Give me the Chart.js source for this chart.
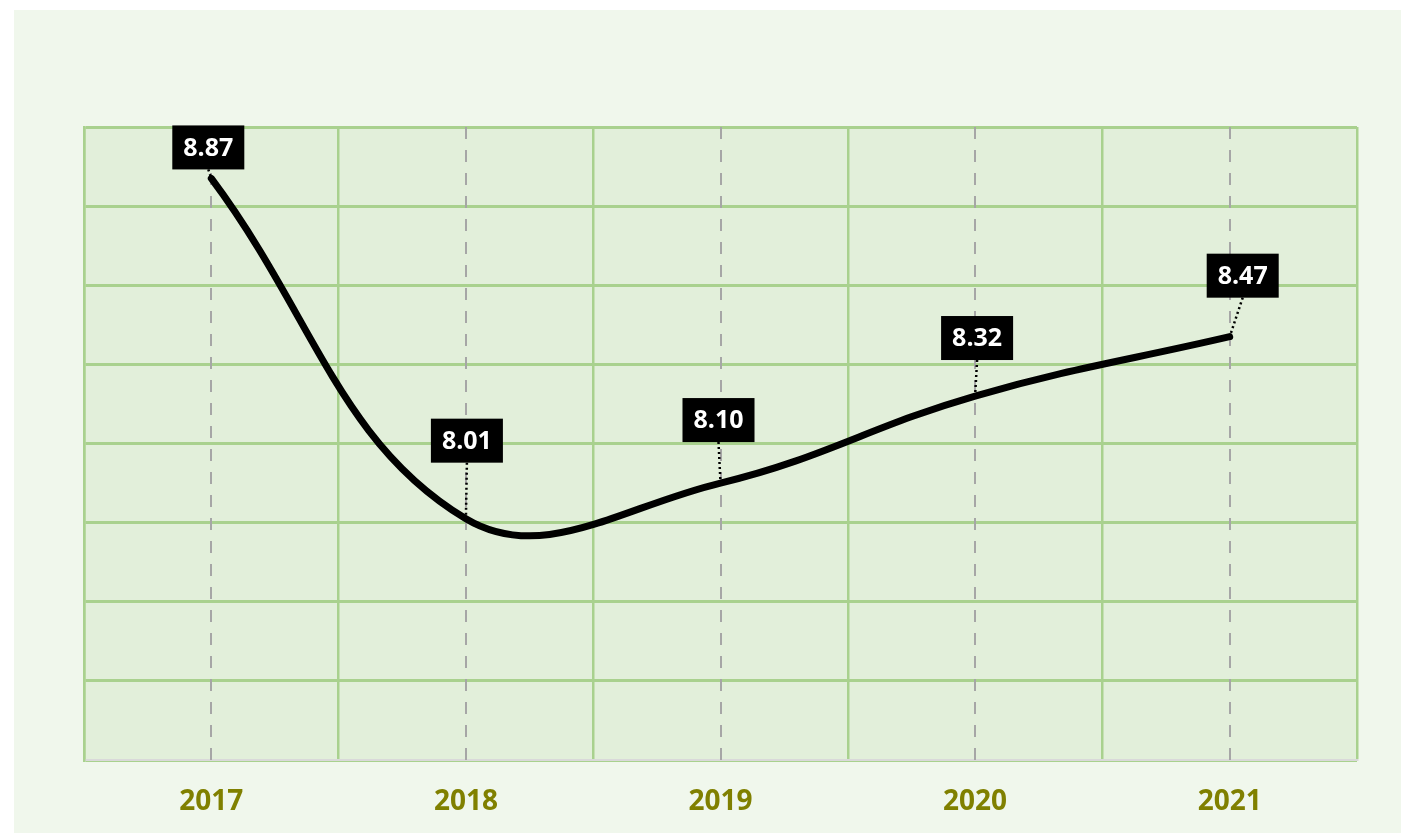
<!DOCTYPE html>
<html>
<head>
<meta charset="utf-8">
<script src="https://cdn.jsdelivr.net/npm/chart.js@4"></script>
<style>
  html, body { margin: 0; padding: 0; background: #ffffff; }
  #wrap {
    position: absolute;
    left: 14px;
    top: 10px;
    width: 1387px;
    height: 823px;
    background: #f0f7ec;
  }
</style>
</head>
<body>
<div id="wrap"><canvas id="chart"></canvas></div>
<script>
const years = ["2017", "2018", "2019", "2020", "2021"];
const values = [8.87, 8.01, 8.10, 8.32, 8.47];
const yMin = 7.4;
const yMax = 9.0;
const yStep = 0.2;

// plot area fill
const plotBg = {
    id: "plotBg",
    beforeDraw(chart) {
        const { ctx, chartArea } = chart;
        ctx.save();
        ctx.fillStyle = "#e2efda";
        ctx.fillRect(chartArea.left, chartArea.top, chartArea.width, chartArea.height);
        ctx.restore();
    }
};

// dashed grey line through each year
const dropLines = {
    id: "dropLines",
    beforeDatasetsDraw(chart) {
        const { ctx, chartArea, scales } = chart;
        ctx.save();
        ctx.strokeStyle = "#a6a6a6";
        ctx.lineWidth = 2;
        ctx.setLineDash([12, 11]);
        years.forEach((y, i) => {
            const x = Math.round(scales.x.getPixelForValue(i));
            ctx.beginPath();
            ctx.moveTo(x, chartArea.top);
            ctx.lineTo(x, chartArea.bottom);
            ctx.stroke();
        });
        ctx.restore();
    }
};

// black boxes with value, dotted leader to the point
const valueBoxes = {
    id: "valueBoxes",
    afterDatasetsDraw(chart, args, opts) {
        const { ctx } = chart;
        const meta = chart.getDatasetMeta(0);
        ctx.save();
        ctx.font = "bold 25px 'Open Sans'";
        meta.data.forEach((pt, i) => {
            const off = opts.offsets[i];
            const cx = pt.x + off[0];
            const cy = pt.y + off[1];
            const text = values[i].toFixed(2);
            const w = ctx.measureText(text).width + 22;
            const h = 44;

            // leader
            ctx.strokeStyle = "#000000";
            ctx.lineWidth = 2.5;
            ctx.setLineDash([2, 3]);
            ctx.beginPath();
            ctx.moveTo(cx, cy + h / 2);
            ctx.lineTo(pt.x, pt.y);
            ctx.stroke();
            ctx.setLineDash([]);

            ctx.fillStyle = "#000000";
            ctx.fillRect(cx - w / 2, cy - h / 2, w, h);
            ctx.fillStyle = "#ffffff";
            ctx.textAlign = "center";
            ctx.textBaseline = "middle";
            ctx.fillText(text, cx, cy + 1);
        });
        ctx.restore();
    }
};

new Chart(document.getElementById("chart"), {
    type: "line",
    data: {
        labels: years,
        datasets: [{
            data: values,
            borderColor: "#000000",
            borderWidth: 7,
            borderCapStyle: "round",
            tension: 0.4,
            pointRadius: 0,
            pointHoverRadius: 0,
            fill: false
        }]
    },
    options: {
        responsive: true,
        maintainAspectRatio: false,
        animation: false,
        layout: {
            padding: { left: 70, right: 44, top: 117, bottom: 0 }
        },
        plugins: {
            legend: { display: false },
            tooltip: { enabled: false },
            valueBoxes: {
                offsets: [[-3, -31], [1, -78], [-2, -63], [2, -58], [13, -61]]
            }
        },
        scales: {
            x: {
                offset: true,
                grid: {
                    offset: true,
                    color: "#a9d18e",
                    lineWidth: 2.5,
                    drawTicks: false
                },
                border: { color: "#d9d9d9", width: 2 },
                ticks: {
                    color: "#808000",
                    font: { family: "'Open Sans'", size: 28, weight: "bold" },
                    padding: 25
                },
                afterFit(scale) { scale.height = 73; }
            },
            y: {
                min: yMin,
                max: yMax,
                grid: {
                    color: "#a9d18e",
                    lineWidth: 3,
                    drawTicks: false
                },
                border: { color: "#a9d18e", width: 2.5 },
                ticks: { display: false, stepSize: yStep },
                afterFit(scale) { scale.width = 0; }
            }
        }
    },
    plugins: [plotBg, dropLines, valueBoxes]
});
</script>
</body>
</html>
